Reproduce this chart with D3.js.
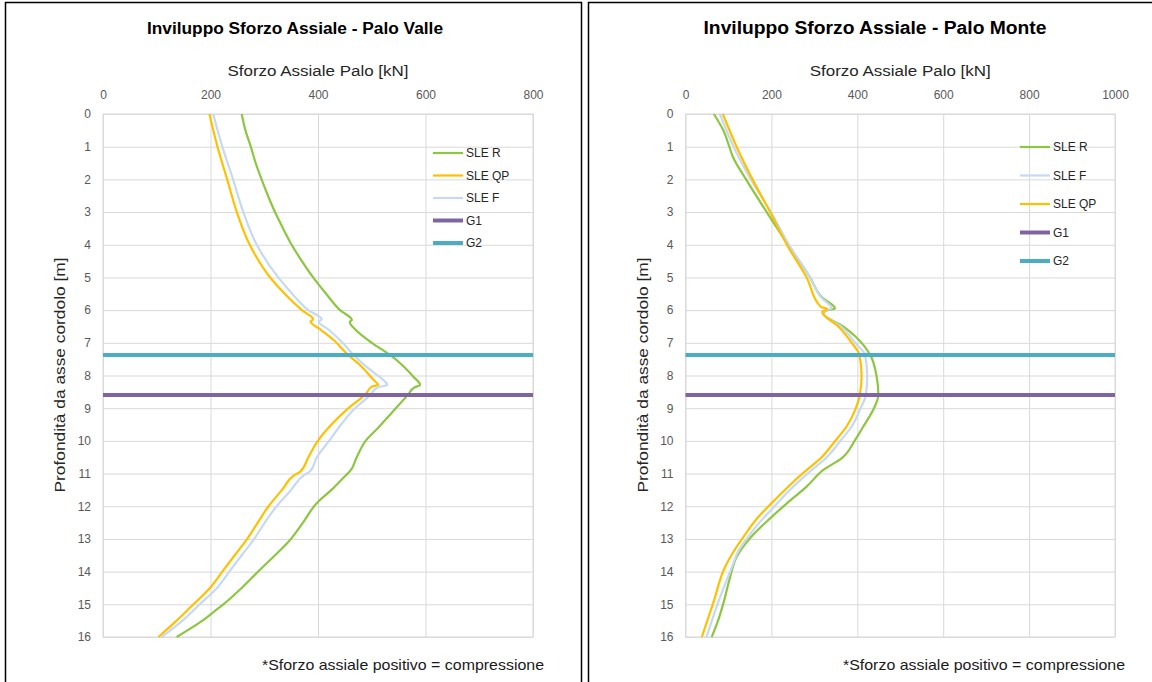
<!DOCTYPE html>
<html>
<head>
<meta charset="utf-8">
<script src="https://cdn.jsdelivr.net/npm/d3@7"></script>
<style>
  body { margin: 0; background: #fff; }
  svg { display: block; font-family: "Liberation Sans", Arial, sans-serif; }
</style>
</head>
<body>
<script>
// dati: [kN, profondità m]
const valleSLER = [[258,0],[265,0.5],[275,1],[284,1.5],[295,2],[307,2.5],[320,3],[335,3.5],[351,4],[370,4.5],[391,5],[415,5.5],[441,6],[463,6.3],[459,6.36],[470,6.6],[500,7],[534,7.37],[558,7.7],[577,8.03],[590,8.29],[580,8.36],[567,8.6],[534,9.2],[512,9.6],[490,9.97],[472,10.5],[459,10.94],[452,11.05],[425,11.5],[398,11.9],[372,12.5],[348,13.03],[320,13.5],[292,13.94],[258,14.5],[224,15],[216,15.1],[185,15.5],[137,16]];
const valleSLEQP = [[198,0],[213,1],[231,2],[249,3],[273,4],[311,5],[338,5.5],[370,6],[391,6.28],[386,6.35],[405,6.6],[428,6.9],[456,7.37],[478,7.68],[503,8.13],[512,8.29],[500,8.34],[490,8.54],[453,9.05],[425,9.5],[401,9.97],[382,10.5],[367,10.94],[356,11.05],[333,11.5],[308,12],[288,12.5],[267,13.03],[245,13.5],[222,14],[199,14.5],[162,15.1],[137,15.5],[103,16]];
const valleSLEF = [[205,0],[222,1],[242,2],[261,3],[286,4],[326,5],[352,5.5],[382,6],[407,6.28],[401,6.35],[420,6.6],[446,7],[466,7.37],[495,7.8],[521,8.13],[529,8.29],[512,8.36],[497,8.6],[466,9.05],[443,9.5],[422,9.97],[398,10.5],[385,10.94],[374,11.05],[350,11.5],[323,12],[301,12.5],[280,13.03],[258,13.5],[235,14],[212,14.5],[180,15],[148,15.5],[109,16]];

const monteSLER = [[66,0],[88,0.5],[102,1],[110,1.3],[141,2],[189,3],[239,4],[290,5],[317,5.6],[348,5.95],[327,6.02],[321,6.1],[367,6.5],[395,6.8],[430,7.37],[445,8.03],[449,8.59],[437,9.05],[414,9.56],[395,9.97],[364,10.53],[321,10.89],[282,11.4],[236,11.91],[197,12.37],[150,12.98],[119,13.55],[104,14.16],[88,14.98],[76,15.49],[61,16]];
const monteSLEF = [[80,0],[112,1],[152,2],[199,3],[241,4],[290,5],[315,5.6],[340,5.95],[325,6.02],[320,6.1],[362,6.5],[395,7],[418,7.37],[423,8.03],[420,8.59],[406,9.05],[387,9.56],[360,10.01],[329,10.5],[286,10.98],[243,11.5],[204,12.05],[172,12.5],[145,12.95],[124,13.35],[108,13.86],[76,14.94],[49,16]];
const monteSLEQP = [[87,0],[119,1],[156,2],[197,3],[236,4],[282,5],[315,5.9],[330,5.97],[318,6.05],[356,6.5],[387,7],[405,7.37],[410,8],[406,8.59],[395,9.05],[375,9.56],[348,10.01],[317,10.5],[274,10.98],[236,11.44],[197,11.95],[165,12.4],[137,12.9],[116,13.3],[92,13.86],[65,14.94],[38,16]];

const g1Depth = 8.6;
const g2Depth = 7.37;
const depthTicks = d3.range(0, 17);
const valleTicks = [0, 200, 400, 600, 800];
const monteTicks = [0, 200, 400, 600, 800, 1000];

const colors = { "SLE R": "#8DC641", "SLE QP": "#FFC000", "SLE F": "#C6D9F0", "G1": "#8064A2", "G2": "#4BACC6" };

const svg = d3.select("body").append("svg")
  .attr("width", 1152)
  .attr("height", 682);

// cornici dei due pannelli
svg.append("rect").attr("x", 5.5).attr("y", 2.5).attr("width", 576).attr("height", 690)
  .attr("fill", "none").attr("stroke", "#000").attr("stroke-width", 1.5);
svg.append("rect").attr("x", 588.5).attr("y", 2.5).attr("width", 600).attr("height", 690)
  .attr("fill", "none").attr("stroke", "#000").attr("stroke-width", 1.5);

function disegna(opt) {
  const g = svg.append("g");
  const x = d3.scaleLinear().domain([0, opt.xMax]).range([opt.left, opt.right]);
  const y = d3.scaleLinear().domain([0, 16]).range([114, 637]);

  // griglia
  g.append("g").attr("transform", "translate(0,114)")
    .call(d3.axisTop(x).tickValues(opt.ticks).tickSize(-523).tickFormat(""))
    .call(a => a.select(".domain").remove())
    .selectAll("line").attr("stroke", "#D9D9D9");
  g.append("g").attr("transform", `translate(${opt.left},0)`)
    .call(d3.axisLeft(y).tickValues(depthTicks).tickSize(-(opt.right - opt.left)).tickFormat(""))
    .call(a => a.select(".domain").remove())
    .selectAll("line").attr("stroke", "#D9D9D9");
  g.append("rect").attr("x", opt.left).attr("y", 114)
    .attr("width", opt.right - opt.left).attr("height", 523)
    .attr("fill", "none").attr("stroke", "#D9D9D9");

  // etichette assi
  const ax = g.append("g").attr("transform", "translate(0,102)")
    .call(d3.axisTop(x).tickValues(opt.ticks).tickSize(0).tickFormat(d3.format("d")));
  ax.select(".domain").remove();
  ax.selectAll("text").attr("fill", "#595959").style("font-size", "12px").style("font-family", "Liberation Sans, Arial");
  const ay = g.append("g").attr("transform", `translate(${opt.left - 9},0)`)
    .call(d3.axisLeft(y).tickValues(depthTicks).tickSize(0).tickFormat(d3.format("d")));
  ay.select(".domain").remove();
  ay.selectAll("text").attr("fill", "#595959").style("font-size", "12px").style("font-family", "Liberation Sans, Arial");

  // serie
  const line = d3.line().x(d => x(d[0])).y(d => y(d[1])).curve(d3.curveMonotoneY);
  opt.series.forEach(s => {
    g.append("path").datum(s.data).attr("d", line)
      .attr("fill", "none").attr("stroke", colors[s.name]).attr("stroke-width", 2.2)
      .attr("stroke-linejoin", "round");
  });
  [["G1", g1Depth], ["G2", g2Depth]].forEach(([n, dep]) => {
    g.append("path").datum([[0, dep], [opt.xMax, dep]]).attr("d", d3.line().x(d => x(d[0])).y(d => y(d[1])))
      .attr("stroke", colors[n]).attr("stroke-width", 4);
  });

  // legenda
  const nomi = opt.series.map(s => s.name).concat(["G1", "G2"]);
  nomi.forEach((n, i) => {
    const ly = opt.legY + i * opt.legStep;
    g.append("line").attr("x1", opt.legX).attr("x2", opt.legX + 30).attr("y1", ly).attr("y2", ly)
      .attr("stroke", colors[n]).attr("stroke-width", n[0] === "G" ? 4 : 2.2);
    g.append("text").attr("x", opt.legX + 33).attr("y", ly + 4).text(n)
      .attr("fill", "#262626").style("font-size", "12px");
  });

  // titoli
  g.append("text").attr("x", opt.titleX).attr("y", 34).text(opt.title)
    .attr("text-anchor", "middle").style("font-weight", "bold").style("font-size", opt.titleSize + "px")
    .attr("textLength", opt.titleLen).attr("lengthAdjust", "spacingAndGlyphs");
  g.append("text").attr("x", (opt.left + opt.right) / 2).attr("y", 76).text("Sforzo Assiale Palo [kN]")
    .attr("text-anchor", "middle").style("font-size", "14px").attr("fill", "#262626")
    .attr("textLength", 181).attr("lengthAdjust", "spacingAndGlyphs");
  g.append("text").attr("transform", `translate(${opt.left - 38},375) rotate(-90)`)
    .text("Profondità da asse cordolo [m]").attr("text-anchor", "middle")
    .style("font-size", "14px").attr("fill", "#262626")
    .attr("textLength", 235).attr("lengthAdjust", "spacingAndGlyphs");
  g.append("text").attr("x", opt.noteX).attr("y", 670).text("*Sforzo assiale positivo = compressione")
    .style("font-size", "15px").attr("fill", "#1a1a1a")
    .attr("textLength", 282).attr("lengthAdjust", "spacingAndGlyphs");
}

disegna({
  title: "Inviluppo  Sforzo Assiale  - Palo Valle", titleX: 295, titleSize: 16, titleLen: 296,
  left: 103, right: 533, xMax: 800, ticks: valleTicks,
  series: [{ name: "SLE R", data: valleSLER }, { name: "SLE QP", data: valleSLEQP }, { name: "SLE F", data: valleSLEF }],
  legX: 433, legY: 153, legStep: 22.5, noteX: 262
});

disegna({
  title: "Inviluppo Sforzo Assiale - Palo Monte", titleX: 875, titleSize: 18, titleLen: 343,
  left: 685.5, right: 1115, xMax: 1000, ticks: monteTicks,
  series: [{ name: "SLE R", data: monteSLER }, { name: "SLE F", data: monteSLEF }, { name: "SLE QP", data: monteSLEQP }],
  legX: 1020, legY: 147, legStep: 28.5, noteX: 843
});
</script>
</body>
</html>
